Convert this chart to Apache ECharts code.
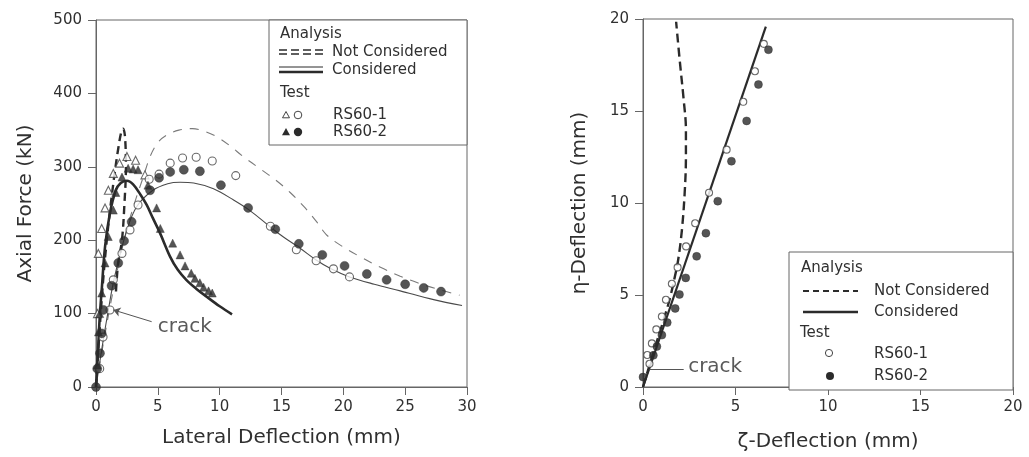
<!DOCTYPE html>
<html>
<head>
<meta charset="utf-8">
<script src="https://cdn.jsdelivr.net/npm/echarts@6/dist/echarts.min.js"></script>
<style>
  html, body { margin: 0; padding: 0; background: #ffffff; }
  #chart { width: 1029px; height: 457px; }
</style>
</head>
<body>
<div id="chart"></div>
<script>
// ---- Left panel: axial force vs lateral deflection ----
const leftXTicks = [0, 30, 5];      // min, max, interval (mm)
const leftYTicks = [0, 500, 100];   // min, max, interval (kN)

// analysis, RS60-1 (thin) and RS60-2 (thick)
const anaConsidered1 = [[0,0],[0.5,55],[1.0,105],[1.5,150],[2.5,214],[3.3,246],[4.6,268],[5.8,277],[6.8,279],[7.9,278],[9.5,270],[11.1,255],[12.4,241],[14.1,218],[15.1,205],[16.5,189],[17.8,173],[19.0,161],[20.5,150],[22.5,140],[24.6,131],[27.3,119],[29.6,111]];
const anaNotConsidered1 = [[0,0],[0.6,60],[1.2,115],[1.8,165],[2.5,215],[3.2,255],[3.8,285],[4.4,315],[5.0,333],[5.7,343],[6.7,350],[7.8,352],[8.8,348],[9.75,341],[10.8,329],[11.9,314],[13.3,297],[14.6,281],[15.7,265],[16.8,246],[17.8,226],[18.6,208],[19.6,195],[21.3,178],[23.0,163],[24.6,151],[26.0,142],[27.5,134],[29.4,125]];
const anaConsidered2 = [[0,0],[0.15,45],[0.3,95],[0.46,132],[0.73,191],[1.13,237],[1.6,268],[2.0,278],[2.5,281],[3.0,276],[3.6,262],[4.1,248],[4.6,230],[5.17,210],[5.98,178],[6.6,160],[7.3,146],[8.1,134],[8.95,123],[10.0,110],[11.0,99]];
const anaNotConsidered2 = [[0,0],[0.3,80],[0.6,150],[0.9,205],[1.2,250],[1.5,290],[1.8,325],[2.05,348],[2.2,352],[2.35,340],[2.42,300],[2.3,250],[2.1,200],[1.8,170],[1.65,140],[1.6,125]];

// test, RS60-1 (open) and RS60-2 (filled)
const testTri1 = [[0.12,100],[0.19,182],[0.46,216],[0.73,244],[1.0,268],[1.4,291],[1.9,305],[2.5,314],[3.2,309],[3.96,289]];
const testCirc1 = [[0.3,25],[0.57,68],[1.13,105],[1.4,146],[2.1,182],[2.75,214],[3.4,248],[4.3,283],[5.1,290],[6.0,305],[7.0,312],[8.1,313],[9.4,308],[11.3,288],[14.1,219],[16.2,187],[17.8,172],[19.2,161],[20.5,150]];
const testTri2 = [[0.1,30],[0.2,75],[0.3,100],[0.46,128],[0.73,169],[0.99,205],[1.4,241],[1.6,265],[2.1,286],[2.6,298],[3.0,297],[3.4,296],[4.2,275],[4.9,244],[5.2,216],[6.2,196],[6.8,180],[7.2,165],[7.7,155],[8.0,148],[8.4,142],[8.7,136],[9.1,131],[9.4,128]];
const testCirc2 = [[0,0],[0.1,25],[0.32,46],[0.46,73],[0.6,105],[1.26,138],[1.8,169],[2.27,199],[2.88,225],[4.37,268],[5.1,285],[6.0,293],[7.1,296],[8.4,294],[10.1,275],[12.3,244],[14.5,215],[16.4,195],[18.3,180],[20.1,165],[21.9,154],[23.5,146],[25.0,140],[26.5,135],[27.9,130]];

const crackLeftLine = [[4.5,89],[1.4,105]];
const crackLeftText = [5.0,82];

// ---- Right panel: eta deflection vs zeta deflection ----
const rightXTicks = [0, 20, 5];
const rightYTicks = [0, 20, 5];

const rightConsidered = [[0,0],[6.64,19.58]];
const rightNotConsidered = [[0,0],[0.6,2.0],[1.1,3.6],[1.45,4.8],[1.7,5.9],[1.9,6.9],[2.1,8.5],[2.25,10.5],[2.32,12.5],[2.32,14.0],[2.2,15.6],[2.0,17.6],[1.79,19.85]];
const rightTest1 = [[0.23,1.74],[0.35,1.26],[0.48,2.37],[0.72,3.13],[1.02,3.83],[1.24,4.74],[1.56,5.61],[1.87,6.5],[2.33,7.64],[2.82,8.9],[3.57,10.56],[4.52,12.9],[5.42,15.5],[6.05,17.16],[6.53,18.65]];
const rightTest2 = [[0,0.54],[0.56,1.72],[0.75,2.2],[1.02,2.82],[1.31,3.5],[1.74,4.27],[1.97,5.03],[2.31,5.93],[2.9,7.1],[3.4,8.36],[4.04,10.1],[4.78,12.27],[5.6,14.46],[6.24,16.44],[6.78,18.33]];

const crackRightLine = [[0.35,0.97],[2.2,0.97]];
const crackRightText = [2.44,1.1];

// ---- styling ----
const FONT = 'DejaVu Sans';
const INK = '#2b2b2b';
const TEXT = '#303030';
const FRAME = '#666666';

function makeAxis(gridIndex, ticks, name, nameGap, isY) {
  return {
    type: 'value', gridIndex: gridIndex,
    min: ticks[0], max: ticks[1], interval: ticks[2],
    name: name, nameLocation: 'middle', nameGap: nameGap,
    nameTextStyle: { fontFamily: FONT, fontSize: 20, color: TEXT },
    axisLine: { show: true, lineStyle: { color: FRAME, width: 1 } },
    axisTick: { show: true, inside: false, length: 8, lineStyle: { color: FRAME, width: 1 } },
    axisLabel: { fontFamily: FONT, fontSize: 15, color: TEXT, margin: isY ? 14 : 13 },
    splitLine: { show: false }
  };
}

function lineSeries(idx, data, width, color, dashed) {
  return {
    type: 'line', xAxisIndex: idx, yAxisIndex: idx, data: data,
    smooth: 0.35, showSymbol: false, symbol: 'none', z: 2,
    lineStyle: { width: width, color: color, type: dashed ? dashed : 'solid' }
  };
}

function scatterSeries(idx, data, symbol, filled, size) {
  return {
    type: 'scatter', xAxisIndex: idx, yAxisIndex: idx, data: data,
    symbol: symbol, symbolSize: size, z: 4,
    itemStyle: filled ? { color: INK, borderColor: INK, borderWidth: 0.5 }
                      : { color: '#ffffff', borderColor: '#444', borderWidth: 1.1 }
  };
}

function annotation(idx, line, arrowEnd, textPos) {
  return [{
    type: 'scatter', xAxisIndex: idx, yAxisIndex: idx, data: [textPos],
    symbolSize: 0, z: 5,
    label: { show: true, position: 'right', distance: 0, formatter: 'crack',
             fontFamily: FONT, fontSize: 20, color: TEXT },
    markLine: {
      silent: true, animation: false,
      symbol: arrowEnd ? ['none', 'arrow'] : ['none', 'none'], symbolSize: 7,
      lineStyle: { color: '#555', width: 1, type: 'solid' },
      label: { show: false },
      data: [[{ coord: line[0] }, { coord: line[1] }]]
    }
  }];
}

// legend pieces
function txt(x, y, s) {
  return { type: 'text', x: x, y: y, z: 20,
    style: { text: s, font: '15px "' + FONT + '"', fill: TEXT, align: 'left', verticalAlign: 'middle' } };
}
function seg(x1, y1, x2, y2, w, dash) {
  return { type: 'line', z: 20, shape: { x1: x1, y1: y1, x2: x2, y2: y2 },
    style: { stroke: INK, lineWidth: w, lineDash: dash || null } };
}
function tri(cx, cy, s, filled) {
  return { type: 'polygon', z: 20,
    shape: { points: [[cx, cy - s], [cx - s, cy + s * 0.8], [cx + s, cy + s * 0.8]] },
    style: filled ? { fill: INK } : { fill: '#fff', stroke: '#444', lineWidth: 1 } };
}
function dot(cx, cy, r, filled) {
  return { type: 'circle', z: 20, shape: { cx: cx, cy: cy, r: r },
    style: filled ? { fill: INK } : { fill: '#fff', stroke: '#444', lineWidth: 1 } };
}

const graphics = [
  // left legend
  { type: 'rect', z: 19, shape: { x: 269, y: 20, width: 198, height: 125 },
    style: { fill: '#fff', stroke: FRAME, lineWidth: 1 } },
  txt(280, 34, 'Analysis'),
  seg(279, 50, 327, 50, 1.5, [8, 4]), seg(279, 54, 327, 54, 1.5, [8, 4]),
  txt(332, 52, 'Not Considered'),
  seg(279, 67, 323, 67, 1), seg(279, 72, 323, 72, 2.5),
  txt(332, 70, 'Considered'),
  txt(280, 93, 'Test'),
  tri(286, 115, 3.5, false), dot(298, 115, 3.8, false),
  txt(333, 115, 'RS60-1'),
  tri(286, 132, 4, true), dot(298, 132, 4.2, true),
  txt(333, 132, 'RS60-2'),
  // right legend
  { type: 'rect', z: 19, shape: { x: 789, y: 252, width: 224, height: 138 },
    style: { fill: '#fff', stroke: FRAME, lineWidth: 1 } },
  txt(801, 268, 'Analysis'),
  seg(803, 291, 858, 291, 2, [6, 4]),
  txt(874, 291, 'Not Considered'),
  seg(803, 312, 858, 312, 2.5),
  txt(874, 312, 'Considered'),
  txt(800, 333, 'Test'),
  dot(829, 353, 3.6, false),
  txt(874, 354, 'RS60-1'),
  dot(830, 376, 4, true),
  txt(874, 376, 'RS60-2')
];

const option = {
  animation: false,
  backgroundColor: '#ffffff',
  textStyle: { fontFamily: FONT },
  grid: [
    { left: 96, top: 20, width: 371, height: 367, show: true, borderColor: FRAME, borderWidth: 1, backgroundColor: 'transparent' },
    { left: 643, top: 19, width: 370, height: 371, show: true, borderColor: FRAME, borderWidth: 1, backgroundColor: 'transparent' }
  ],
  xAxis: [
    makeAxis(0, leftXTicks, 'Lateral Deflection (mm)', 41, false),
    makeAxis(1, rightXTicks, 'ζ-Deflection (mm)', 45, false)
  ],
  yAxis: [
    makeAxis(0, leftYTicks, 'Axial Force (kN)', 60, true),
    makeAxis(1, rightYTicks, 'η-Deflection (mm)', 53, true)
  ],
  graphic: graphics,
  series: [
    lineSeries(0, anaNotConsidered1, 1.1, '#7a7a7a', [9, 8]),
    lineSeries(0, anaConsidered1, 1.1, '#4a4a4a'),
    lineSeries(0, anaNotConsidered2, 2.4, INK, [8, 5]),
    lineSeries(0, anaConsidered2, 2.6, INK),
    scatterSeries(0, testTri1, 'triangle', false, 8),
    scatterSeries(0, testCirc1, 'circle', false, 8),
    scatterSeries(0, testTri2, 'triangle', true, 8),
    scatterSeries(0, testCirc2, 'circle', true, 9),
    ...annotation(0, crackLeftLine, true, crackLeftText),

    { type: 'line', xAxisIndex: 1, yAxisIndex: 1, data: rightConsidered, showSymbol: false, symbol: 'none', z: 2,
      lineStyle: { width: 2.2, color: INK } },
    lineSeries(1, rightNotConsidered, 2.4, INK, [9, 5]),
    scatterSeries(1, rightTest1, 'circle', false, 7),
    scatterSeries(1, rightTest2, 'circle', true, 8),
    ...annotation(1, crackRightLine, false, crackRightText)
  ]
};

echarts.init(document.getElementById('chart'), null, { renderer: 'canvas' }).setOption(option);
</script>
</body>
</html>
